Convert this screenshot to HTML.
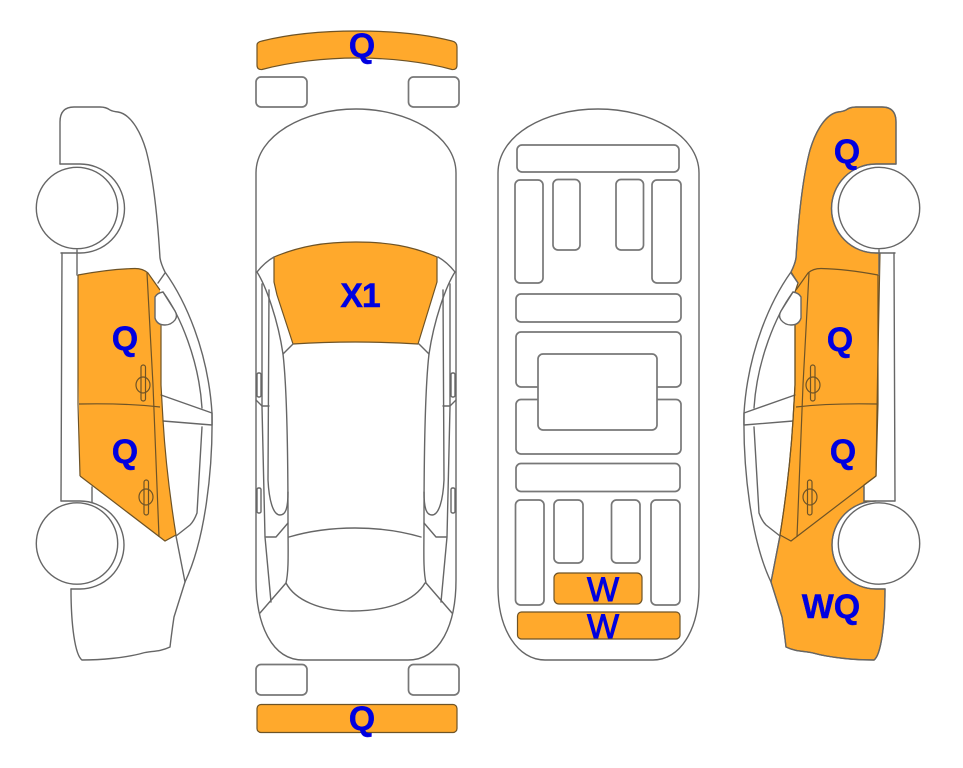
<!DOCTYPE html>
<html>
<head>
<meta charset="utf-8">
<title>Vehicle damage diagram</title>
<style>
html,body{margin:0;padding:0;background:#fff;width:963px;height:768px;overflow:hidden}
svg{display:block}
.l{fill:none;stroke:#666;stroke-width:1.4;stroke-linejoin:round;stroke-linecap:round}
.g{fill:#fff;stroke:#777;stroke-width:1.7}
.o{fill:#ffa92c;stroke:#6e5326;stroke-width:1.2;stroke-linejoin:round}
.d{fill:none;stroke:#6e5326;stroke-width:1.2}
text{font-family:"Liberation Sans",Arial,sans-serif;font-weight:bold;font-size:34px;fill:#0000e0;stroke:#0000e0;stroke-width:.4;text-anchor:middle}
</style>
</head>
<body>
<svg width="963" height="768" viewBox="0 0 963 768" xmlns="http://www.w3.org/2000/svg">
<defs>
<g id="door">
<path class="o" style="stroke:none" d="M78 275 Q110 269 135 268.500 Q143 268.500 148 273 L160 290 L161 385 L163 420 C166 470 172 510 176 535 L165 541 L80 476 L78.500 380 Z"/>
</g>
<g id="car">
<path class="l" d="M60 164 V122 Q60 107 74 107 L100 107 Q106 107 110 110 Q113 111.500 118 112 C130 114 140 130 146 150 C154 180 158 225 160 258 Q161 264 165 272 C185 300 208 350 212 413 C213 470 205 540 185 582 L174 617 Q172 630 170 647 C160 652 150 651 143 653 C125 658 100 660 82 660 C75 655 71 625 71 589"/>
<path class="l" d="M60 164 H80 A44.500 44.500 0 0 1 80 253 H61"/>
<path class="l" d="M61 501 H80 A44 44 0 0 1 80 589 H71"/>
<path class="l" d="M62 253 L61 501 M77 250 V275 M92 487 V502"/>
<path class="l" d="M158 283 L165 273"/>
<path class="l" d="M163 292 C180 315 199 360 202 408 M202 427 L197 513 Q194 521 190 525 L176 536 L185 582"/>
<path class="l" d="M161 395 L212 413 V425 L163 421"/>
<path class="d" d="M78 275 Q110 269 135 268.500 Q143 268.500 148 273 L160 290"/>
<path class="d" d="M147 273 L153 385 L159 537"/>
<path class="d" d="M79 404 Q125 403 160 407"/>
<path class="d" d="M80 476 L165 541 L176 535 M163 420 C166 470 172 510 176 535 M161 292 V385 L163 420"/>
<path class="d" d="M78 275 V404 L80 476"/>
<rect class="d" x="141" y="365" width="4.500" height="36" rx="2.200"/>
<ellipse class="d" cx="143" cy="385" rx="7" ry="8"/>
<rect class="d" x="144" y="480" width="4.500" height="35" rx="2.200"/>
<ellipse class="d" cx="146" cy="497" rx="7" ry="8"/>
<path class="l" style="fill:#fff" d="M155 297 Q157 293 163 292 L175 311 Q178 316 175 320 Q171 325 165 325 Q157 325 155 318 Z"/>
<circle class="l" style="fill:#fff" cx="77" cy="208" r="40.700"/>
<circle class="l" style="fill:#fff" cx="77" cy="543.500" r="40.700"/>
</g>
<g id="half">
<path class="l" d="M257 272 Q265 262 274 257"/>
<path class="l" d="M257 272 C266 286 278 320 283 354 C286 380 288 440 288 523 C288 550 289 570 286 583 L260 613"/>
<path class="l" d="M283 354 L293 344"/>
<path class="l" d="M262 284 V407 L265 537 L271 602"/>
<path class="l" d="M269 290 L268 480 C269 500 273 515 280 515 C285 515 288 510 288 492"/>
<path class="l" d="M256 400 L262 406 H269"/>
<path class="l" d="M266 537 H276 L288 523"/>
<rect class="l" x="257" y="373" width="4" height="24" rx="1.500"/>
<rect class="l" x="257" y="488" width="4" height="25" rx="1.500"/>
</g>
</defs>

<!-- left side car -->
<use href="#door"/>
<use href="#car"/>

<!-- right side car -->
<g transform="matrix(-1 0 0 1 956 0)">
<path class="o" d="M60 164 V122 Q60 107 74 107 L100 107 Q106 107 110 110 Q113 111.500 118 112 C130 114 140 130 146 150 C154 180 158 225 160 258 Q161 264 165 272 L158 283 L161 292 V385 L163 420 C166 470 172 510 176 535 L185 582 L174 617 Q172 630 170 647 C160 652 150 651 143 653 C125 658 100 660 82 660 C75 655 71 625 71 589 H80 A44 44 0 0 0 80 501 H92 V485 L80 476 L78.500 380 L76 253 H80 A44.500 44.500 0 0 0 80 164 Z"/>
<use href="#car"/>
</g>

<!-- top view -->
<path class="o" d="M257 45 Q257 42 262 41 C290 34 325 31 357 31 C390 31 425 34 452 41 Q457 42 457 47 V65 Q457 70 452 69.500 C425 62 390 58 357 58 C325 58 290 62 262 69.500 Q257 70 257 65 Z"/>
<rect class="o" x="257" y="704.500" width="200" height="28" rx="4"/>
<rect class="g" x="256" y="77" width="51" height="30" rx="5"/>
<rect class="g" x="408.500" y="77" width="50.500" height="30" rx="5"/>
<rect class="g" x="256" y="664.500" width="51" height="30.500" rx="5"/>
<rect class="g" x="408.500" y="664.500" width="50.500" height="30.500" rx="5"/>
<path class="l" d="M256 268 V173 C256 135 305 109 356 109 C407 109 456 135 456 173 V580 C456 625 440 660 408 660 H303 C272 660 256 625 256 580 Z"/>
<path class="o" d="M274 257 C300 246 325 242 356 242 C387 242 412 246 437 257 L437 282 L418 344 Q355 340 293 344 L277 295 L274 282 Z"/>
<use href="#half"/>
<g transform="matrix(-1 0 0 1 712 0)"><use href="#half"/></g>
<path class="l" d="M289 537 C330 525 380 525 421 537"/>
<path class="l" d="M286 583 C295 600 320 611 352 611 C390 611 415 600 425 583"/>

<!-- underside -->
<path class="l" d="M498 173 C498 135 545 109 598 109 C650 109 699 135 699 173 V587 C699 630 680 660 653 660 H545 C518 660 498 630 498 587 Z"/>
<rect class="g" x="517" y="145" width="162" height="27" rx="5"/>
<rect class="g" x="515" y="180" width="28" height="103" rx="5"/>
<rect class="g" x="553" y="179.500" width="27" height="70.500" rx="5"/>
<rect class="g" x="616" y="179.500" width="27.500" height="70.500" rx="5"/>
<rect class="g" x="652" y="180" width="29" height="103" rx="5"/>
<rect class="g" x="516" y="294" width="165" height="28" rx="5"/>
<rect class="g" x="516" y="332" width="165" height="55" rx="5"/>
<rect class="g" x="516" y="399.500" width="165" height="54.500" rx="5"/>
<rect class="g" x="538" y="354" width="119" height="76" rx="5"/>
<rect class="g" x="516" y="463.500" width="164" height="28" rx="5"/>
<rect class="g" x="515.500" y="500" width="28.500" height="105" rx="5"/>
<rect class="g" x="554" y="500" width="29" height="63" rx="5"/>
<rect class="g" x="611.500" y="500" width="28.500" height="63" rx="5"/>
<rect class="g" x="651" y="500" width="29" height="105" rx="5"/>
<rect class="o" x="554" y="573" width="88" height="31" rx="5"/>
<rect class="o" x="517.500" y="612" width="162.500" height="27" rx="4"/>

<!-- labels -->
<text x="125" y="350">Q</text>
<text x="125" y="463">Q</text>
<text x="362" y="57">Q</text>
<text x="360" y="307" style="letter-spacing:-1px">X1</text>
<text x="362" y="730">Q</text>
<text x="603" y="601" style="font-weight:normal;stroke-width:.9">W</text>
<text x="603" y="638" style="font-weight:normal;stroke-width:.9">W</text>
<text x="847" y="163">Q</text>
<text x="840" y="351">Q</text>
<text x="843" y="463">Q</text>
<text x="831" y="618">WQ</text>
</svg>
</body>
</html>
